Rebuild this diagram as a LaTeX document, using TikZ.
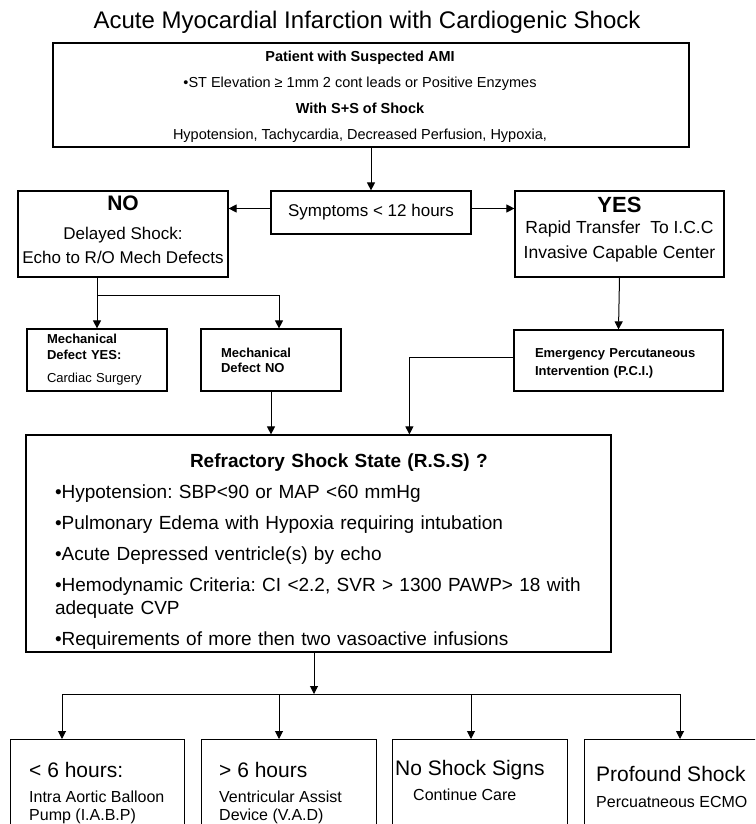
\documentclass[tikz,border=0pt]{standalone}
\usepackage{fontspec}
\setmainfont{Liberation Sans}
\usetikzlibrary{arrows.meta,positioning,calc}
\newcommand{\fsz}[2]{\fontsize{#1}{#2}\selectfont}
\frenchspacing
\tikzset{
  box/.style={draw,line width=1.2pt,inner sep=0pt,align=center},
  leftbox/.style={box,align=left,inner xsep=20pt},
  bottomtext/.style={anchor=north west,align=left,inner sep=0pt,font=\fsz{16}{18}},
  flow/.style={line width=1pt,-{Triangle[length=8pt,width=8pt]}},
  link/.style={line width=1pt},
}

\begin{document}
\begin{tikzpicture}[x=1pt,y=-1pt]
  \useasboundingbox (0,0) rectangle (755,824);
  \clip (0,0) rectangle (755,824);
  \fill[white] (0,0) rectangle (755,824);

  % title
  \node (title) at (367,22) {\fsz{24}{28}Acute Myocardial Infarction with Cardiogenic Shock};

  % first box
  \node[box,minimum width=636pt,minimum height=104pt,font=\fsz{14.5}{26}] (ami) at (371,95)
    {\hspace{-22pt}\begin{tabular}{@{}c@{}}
      \textbf{Patient with Suspected AMI}\\
      •ST Elevation ≥ 1mm 2 cont leads or Positive Enzymes\\
      \textbf{With S+S of Shock}\\
      Hypotension, Tachycardia, Decreased Perfusion, Hypoxia,
    \end{tabular}};

  % decision row
  \node[box,minimum width=200pt,minimum height=43pt,font=\fsz{17}{20}] (sym) at (371,212.5) {Symptoms < 12 hours};
  \node[box,minimum width=210pt,minimum height=86pt,font=\fsz{17}{24}] (no) at (123,234)
    {{\fsz{21}{24}\bfseries NO}\\[5pt]Delayed Shock:\\Echo to R/O Mech Defects\rule[-8pt]{0pt}{0pt}};
  \node[box,minimum width=209pt,minimum height=86pt,font=\fsz{17.5}{25}] (yes) at (619.5,234)
    {{\fsz{22}{25}\bfseries YES}\\[-4.5pt]Rapid Transfer\ \ To I.C.C\\Invasive Capable Center\rule[-12pt]{0pt}{0pt}};

  % second row
  \node[leftbox,minimum width=140pt,minimum height=62pt,text width=100pt,font=\fsz{13}{16}] (mechyes) at (97,360)
    {\textbf{Mechanical}\\\textbf{Defect YES:}\\[7pt]Cardiac Surgery};
  \node[leftbox,minimum width=140pt,minimum height=62pt,text width=100pt,font=\fsz{13}{15}] (defno) at (271,360)
    {\textbf{Mechanical}\\\textbf{Defect NO}};
  \node[leftbox,minimum width=209pt,minimum height=61pt,text width=167pt,inner xsep=21pt,font=\fsz{13}{18}] (pci) at (618.5,360.5)
    {\rule{0pt}{14pt}\textbf{Emergency Percutaneous}\\\textbf{Intervention (P.C.I.)}};

  % refractory shock
  \node[leftbox,minimum width=585pt,minimum height=217pt,text width=527pt,inner xsep=29pt,font=\fsz{19}{23}] (rss) at (318.5,543.5)
    {\rule{0pt}{30pt}\hspace*{135pt}\textbf{Refractory Shock State (R.S.S) ?}\\[8pt]
     •Hypotension: SBP<90 or MAP <60 mmHg\\[8pt]
     •Pulmonary Edema with Hypoxia requiring intubation\\[8pt]
     •Acute Depressed ventricle(s) by echo\\[8pt]
     \mbox{•Hemodynamic Criteria: CI <2.2, SVR > 1300 PAWP> 18 with}\\
     adequate CVP\\[8pt]
     •Requirements of more then two vasoactive infusions};

  % bottom row
  \node[box,anchor=north west,minimum width=174pt,minimum height=120pt] (iabp) at (10,739) {};
  \node[box,anchor=north west,minimum width=175pt,minimum height=120pt] (vad) at (201,739) {};
  \node[box,anchor=north west,minimum width=175pt,minimum height=120pt] (care) at (392,739) {};
  \node[box,anchor=north west,minimum width=175pt,minimum height=120pt] (ecmo) at (584,739) {};

  \node[bottomtext] (iabptxt) at ($(iabp.north west)+(19,23.5)$)
    {{\fsz{21}{25}< 6 hours:}\\[7pt]Intra Aortic Balloon\\Pump (I.A.B.P)};
  \node[bottomtext] (vadtxt) at ($(vad.north west)+(18,23.5)$)
    {{\fsz{21}{25}> 6 hours}\\[7pt]Ventricular Assist\\Device (V.A.D)};
  \node[bottomtext] (caretxt) at ($(care.north west)+(3,21.5)$)
    {{\fsz{21}{25}No Shock Signs}\\[7pt]\hspace*{18pt}Continue Care};
  \node[bottomtext] (ecmotxt) at ($(ecmo.north west)+(12,27.5)$)
    {{\fsz{21}{25}Profound Shock}\\[8pt]Percuatneous ECMO};

  % connectors
  \draw[flow] (ami.south) -- (sym.north);
  \draw[flow] ([yshift=4pt]sym.west) -- ([yshift=4pt]sym.west -| no.east);
  \draw[flow] ([yshift=4pt]sym.east) -- ([yshift=4pt]sym.east -| yes.west);

  \coordinate (nosplit) at (97,295);
  \coordinate (defsplit) at (279,295);
  \draw[link] (no.south -| nosplit) -- (nosplit) -- (defsplit);
  \draw[flow] (nosplit) -- (mechyes.north);
  \draw[flow] (defsplit) -- (defsplit |- defno.north);

  \draw[flow] (yes.south) -- (pci.north);
  \draw[flow] ([yshift=3pt]pci.west) -| ($(rss.north west)+(384,0)$);
  \draw[flow] (defno.south) -- (defno.south |- rss.north);

  \coordinate (split) at (314,694);
  \coordinate (a1) at (62,694);
  \coordinate (a2) at (279,694);
  \coordinate (a3) at (471,694);
  \coordinate (a4) at (680,694);
  \draw[flow] (rss.south -| split) -- (split);
  \draw[link] (a1) -- (a4);
  \foreach \a/\b in {a1/iabp,a2/vad,a3/care,a4/ecmo}
    \draw[flow] (\a) -- (\a |- \b.north);
\end{tikzpicture}
\end{document}
